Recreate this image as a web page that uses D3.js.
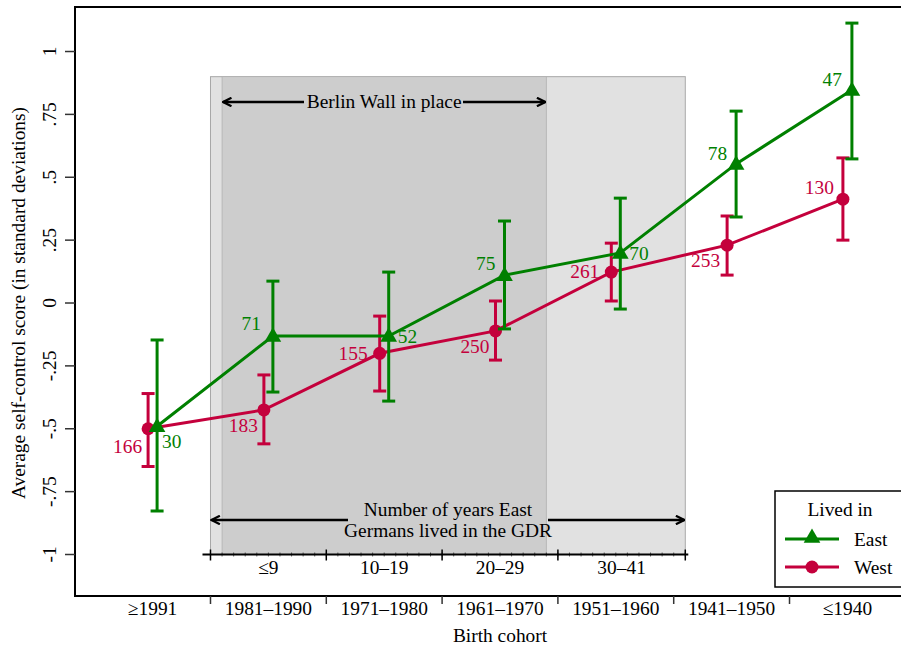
<html>
<head>
<meta charset="utf-8" />
<title>Self-control by birth cohort</title>
<script src="https://cdn.jsdelivr.net/npm/d3@7"></script>
<style>
body { margin: 0; background: #fff; }
text { font-family: "Liberation Serif", "Times New Roman", serif; font-size: 19.4px; }
</style>
</head>
<body>
<script>
// categories on the outer x axis
var cohorts = ["\u22651991", "1981\u20131990", "1971\u20131980", "1961\u20131970", "1951\u20131960", "1941\u20131950", "\u22641940"];
// years lived in GDR (inner axis), with segment edges in category units
var gdrLabels = ["\u22649", "10\u201319", "20\u201329", "30\u201341"];
var gdrEdges = [0.5, 1.5, 2.5, 3.5, 4.6];

var westMean = [-0.50, -0.425, -0.20, -0.111, 0.123, 0.23, 0.413];
var westLo = [-0.65, -0.56, -0.35, -0.227, 0.008, 0.111, 0.25];
var westHi = [-0.36, -0.286, -0.052, 0.008, 0.238, 0.346, 0.577];
var westN = [166, 183, 155, 250, 261, 253, 130];

var eastMean = [-0.49, -0.131, -0.131, 0.111, 0.199, 0.553, 0.847];
var eastLo = [-0.827, -0.354, -0.39, -0.103, -0.024, 0.342, 0.573];
var eastHi = [-0.147, 0.087, 0.123, 0.326, 0.417, 0.763, 1.113];
var eastN = [30, 71, 52, 75, 70, 78, 47];

var yTicks = [1, 0.75, 0.5, 0.25, 0, -0.25, -0.5, -0.75, -1];

// shaded periods in category units
var gdrSpan = [0.5, 4.6];
var wallSpan = [0.6, 3.4];

var W = 901, H = 648;
var green = "#008000", red = "#c4003c";

var svg = d3.select("body").append("svg").attr("width", W).attr("height", H);

var x = d3.scaleLinear().domain([-0.67, 6.67]).range([75, 925]);
var y = d3.scaleLinear().domain([-1.165, 1.177]).range([596, 7]);

// shaded regions
svg.append("rect")
	.attr("x", x(gdrSpan[0])).attr("width", x(gdrSpan[1]) - x(gdrSpan[0]))
	.attr("y", y(0.9)).attr("height", y(-1) - y(0.9))
	.attr("fill", "#e1e1e1").attr("stroke", "#a8a8a8").attr("stroke-width", 1);
svg.append("rect")
	.attr("x", x(wallSpan[0])).attr("width", x(wallSpan[1]) - x(wallSpan[0]))
	.attr("y", y(0.9)).attr("height", y(-1) - y(0.9))
	.attr("fill", "#cdcdcd").attr("stroke", "#b0b0b0").attr("stroke-width", 0.8);

// arrow marker
var defs = svg.append("defs");
defs.append("marker").attr("id", "arr").attr("viewBox", "0 0 10 10")
	.attr("refX", 9).attr("refY", 5).attr("markerWidth", 4.2).attr("markerHeight", 4.2)
	.attr("orient", "auto-start-reverse")
	.append("path").attr("d", "M1,1 L9,5 L1,9").attr("fill", "none").attr("stroke", "#000").attr("stroke-width", 2.2);

// Berlin wall arrow
var wy = 102;
svg.append("line").attr("x1", x(wallSpan[0]) + 1).attr("x2", 304).attr("y1", wy).attr("y2", wy)
	.attr("stroke", "#000").attr("stroke-width", 2.5).attr("marker-start", "url(#arr)");
svg.append("line").attr("x1", 463).attr("x2", x(wallSpan[1]) - 1).attr("y1", wy).attr("y2", wy)
	.attr("stroke", "#000").attr("stroke-width", 2.5).attr("marker-end", "url(#arr)");
svg.append("text").attr("x", (x(wallSpan[0]) + x(wallSpan[1])) / 2).attr("y", wy + 6)
	.attr("text-anchor", "middle").text("Berlin Wall in place");

// GDR arrow
var gy = 520;
svg.append("line").attr("x1", x(gdrSpan[0]) + 1).attr("x2", 348).attr("y1", gy).attr("y2", gy)
	.attr("stroke", "#000").attr("stroke-width", 2.5).attr("marker-start", "url(#arr)");
svg.append("line").attr("x1", 548).attr("x2", x(gdrSpan[1]) - 1).attr("y1", gy).attr("y2", gy)
	.attr("stroke", "#000").attr("stroke-width", 2.5).attr("marker-end", "url(#arr)");
svg.append("text").attr("x", 448).attr("y", 516).attr("text-anchor", "middle").text("Number of years East");
svg.append("text").attr("x", 448).attr("y", 537).attr("text-anchor", "middle").text("Germans lived in the GDR");

// inner axis (years in GDR)
var iy = y(-1);
svg.append("line").attr("x1", x(gdrEdges[0]) - 8).attr("x2", x(gdrEdges[4]) + 3).attr("y1", iy).attr("y2", iy)
	.attr("stroke", "#000").attr("stroke-width", 2);
var minor = d3.range(gdrEdges[0], gdrEdges[4] + 0.001, 0.1);
svg.selectAll(".minor").data(minor).enter().append("line")
	.attr("x1", d => x(d)).attr("x2", d => x(d)).attr("y1", iy - 2).attr("y2", iy + 2)
	.attr("stroke", "#000").attr("stroke-width", 0.6);
svg.selectAll(".major").data(gdrEdges).enter().append("line")
	.attr("x1", d => x(d)).attr("x2", d => x(d)).attr("y1", iy - 5).attr("y2", iy + 6)
	.attr("stroke", "#000").attr("stroke-width", 1.5);
svg.selectAll(".gdrlab").data(gdrLabels).enter().append("text")
	.attr("x", (d, i) => (x(gdrEdges[i]) + x(gdrEdges[i + 1])) / 2).attr("y", 574)
	.attr("text-anchor", "middle").text(d => d);

// error bars and lines
function drawSeries(mean, lo, hi, col, off) {
	var g = svg.append("g");
	var line = d3.line().x((d, i) => x(i) + off).y(d => y(d));
	g.append("path").datum(mean).attr("d", line).attr("fill", "none").attr("stroke", col).attr("stroke-width", 3);
	mean.forEach(function(m, i) {
		var cx = x(i) + off;
		g.append("line").attr("x1", cx).attr("x2", cx).attr("y1", y(lo[i])).attr("y2", y(hi[i]))
			.attr("stroke", col).attr("stroke-width", 3);
		[lo[i], hi[i]].forEach(function(v) {
			g.append("line").attr("x1", cx - 6.5).attr("x2", cx + 6.5).attr("y1", y(v)).attr("y2", y(v))
				.attr("stroke", col).attr("stroke-width", 3);
		});
	});
	return g;
}
var gw = drawSeries(westMean, westLo, westHi, red, -4.5);
var ge = drawSeries(eastMean, eastLo, eastHi, green, 4.5);

gw.selectAll("circle").data(westMean).enter().append("circle")
	.attr("cx", (d, i) => x(i) - 4.5).attr("cy", d => y(d)).attr("r", 6.5).attr("fill", red);
var tri = d3.symbol().type(d3.symbolTriangle).size(120);
ge.selectAll(".tri").data(eastMean).enter().append("path")
	.attr("d", tri).attr("transform", (d, i) => "translate(" + (x(i) + 4.5) + "," + (y(d) + 1) + ")").attr("fill", green);

// N labels: [dx, dy, anchor] relative to each point
var westLab = [[-6, 24, "end"], [-6, 22, "end"], [-12, 7, "end"], [-6, 22, "end"], [-12, 6, "end"], [-7, 22, "end"], [-9, -5, "end"]];
var eastLab = [[5, 22, "start"], [-12, -6, "end"], [9, 7, "start"], [-9, -5, "end"], [9, 7, "start"], [-9, -4, "end"], [-10, -4, "end"]];
svg.selectAll(".wl").data(westN).enter().append("text")
	.attr("x", (d, i) => x(i) - 4.5 + westLab[i][0]).attr("y", (d, i) => y(westMean[i]) + westLab[i][1])
	.attr("text-anchor", (d, i) => westLab[i][2]).attr("fill", red).text(d => d);
svg.selectAll(".el").data(eastN).enter().append("text")
	.attr("x", (d, i) => x(i) + 4.5 + eastLab[i][0]).attr("y", (d, i) => y(eastMean[i]) + eastLab[i][1])
	.attr("text-anchor", (d, i) => eastLab[i][2]).attr("fill", green).text(d => d);

// frame
svg.append("path").attr("d", "M" + W + ",7 H75 V596 H" + W).attr("fill", "none").attr("stroke", "#000").attr("stroke-width", 2);

// y axis
svg.selectAll(".yt").data(yTicks).enter().append("line")
	.attr("x1", 65).attr("x2", 75).attr("y1", d => y(d)).attr("y2", d => y(d))
	.attr("stroke", "#333").attr("stroke-width", 1.5);
var fmt = function(d) {
	if (d === 0) return "0";
	if (Math.abs(d) === 1) return d < 0 ? "-1" : "1";
	return (d < 0 ? "-" : "") + String(Math.abs(d)).replace("0.", ".");
};
svg.selectAll(".yl").data(yTicks).enter().append("text")
	.attr("transform", d => "translate(56," + y(d) + ") rotate(-90)")
	.attr("text-anchor", "middle").text(fmt);
svg.append("text").attr("transform", "translate(25," + y(0) + ") rotate(-90)")
	.attr("text-anchor", "middle")
	.text("Average self-control score (in standard deviations)");

// x axis
var xb = d3.range(0.5, 6, 1);
svg.selectAll(".xt").data(xb).enter().append("line")
	.attr("x1", d => x(d)).attr("x2", d => x(d)).attr("y1", 596).attr("y2", 604)
	.attr("stroke", "#333").attr("stroke-width", 1.5);
svg.selectAll(".xl").data(cohorts).enter().append("text")
	.attr("x", (d, i) => x(i)).attr("y", 615).attr("text-anchor", "middle").text(d => d);
svg.append("text").attr("x", x(3)).attr("y", 642).attr("text-anchor", "middle").text("Birth cohort");

// legend
var lg = svg.append("g");
lg.append("rect").attr("x", 775).attr("y", 491).attr("width", 140).attr("height", 96)
	.attr("fill", "#fff").attr("stroke", "#000").attr("stroke-width", 1.5);
lg.append("text").attr("x", 840).attr("y", 516).attr("text-anchor", "middle").text("Lived in");
var legItems = [["East", green, 539], ["West", red, 567]];
legItems.forEach(function(it, k) {
	lg.append("line").attr("x1", 785).attr("x2", 839).attr("y1", it[2]).attr("y2", it[2]).attr("stroke", it[1]).attr("stroke-width", 3);
	if (k === 0) lg.append("path").attr("d", tri).attr("transform", "translate(812," + (it[2] - 1) + ")").attr("fill", it[1]);
	else lg.append("circle").attr("cx", 812).attr("cy", it[2]).attr("r", 6.5).attr("fill", it[1]);
	lg.append("text").attr("x", 854).attr("y", it[2] + 7).text(it[0]);
});
</script>
</body>
</html>
